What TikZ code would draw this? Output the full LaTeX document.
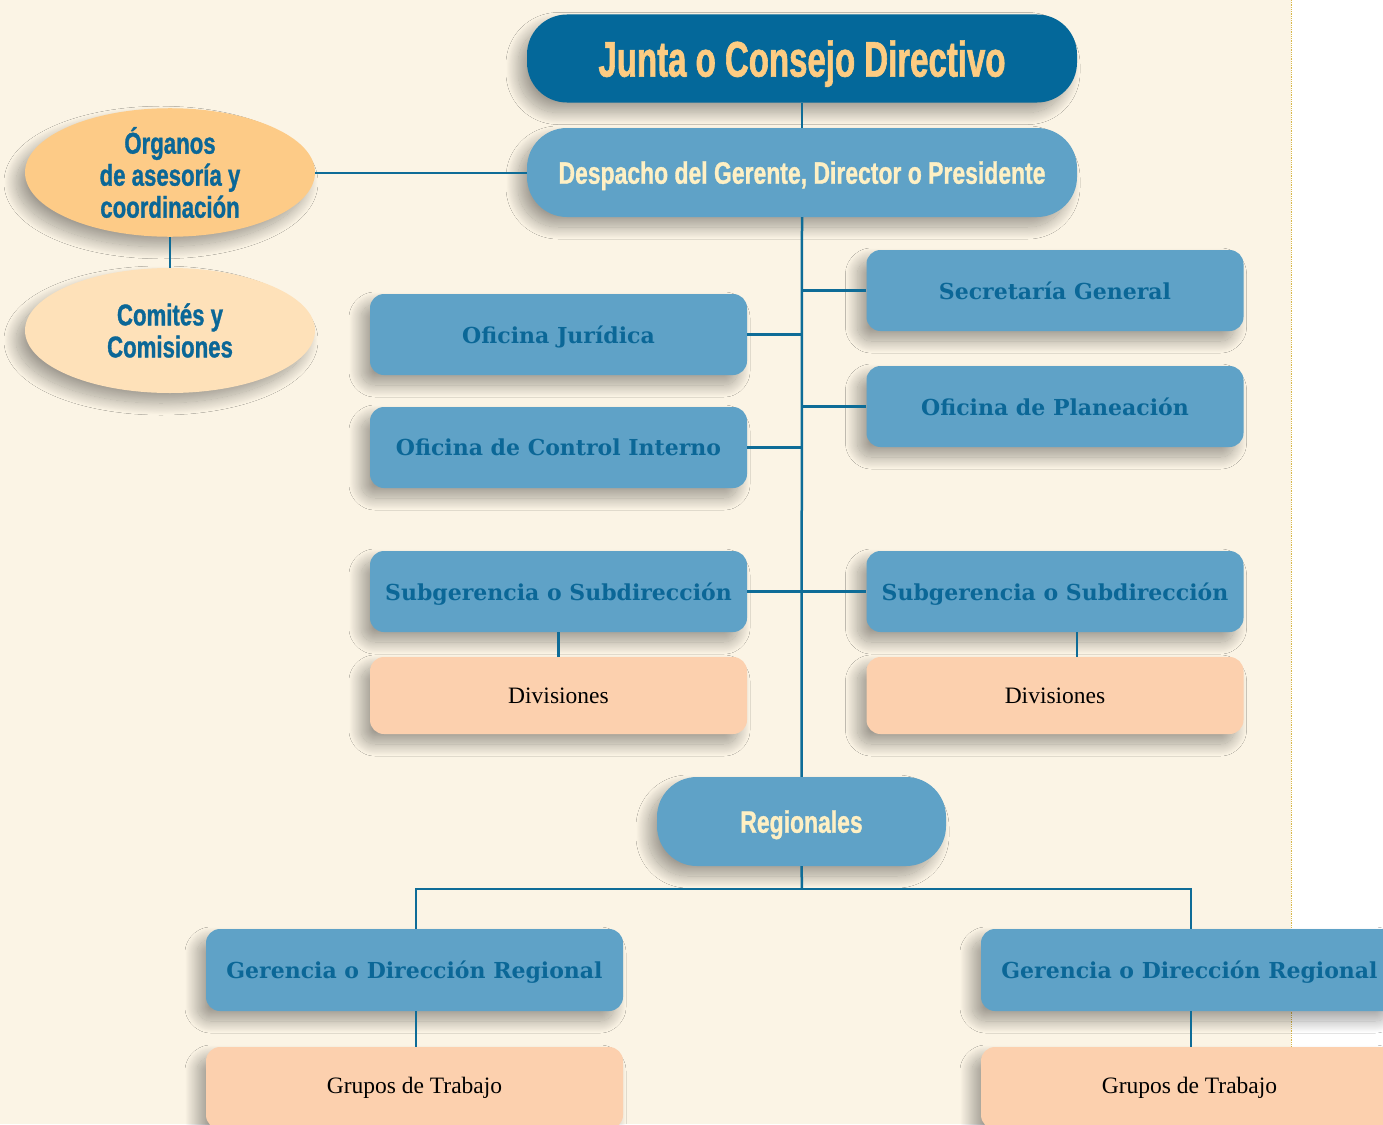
\documentclass[tikz,border=0pt]{standalone}
\usepackage{fontspec}
\usetikzlibrary{shapes.geometric,shadows.blur}
\newfontfamily\impactfont[FakeStretch=0.66,FakeBold=1.2]{Liberation Sans Bold}
\newfontfamily\impactwide[FakeStretch=0.74,FakeBold=1.0]{Liberation Sans Bold}
\newfontfamily\slabfont{DejaVu Serif Bold}
\newfontfamily\plainserif{Liberation Serif}
\definecolor{bgcream}{HTML}{FBF4E5}
\definecolor{darkblue}{HTML}{04689A}
\definecolor{midblue}{HTML}{5FA2C7}
\definecolor{txtblue}{HTML}{0B6797}
\definecolor{orangeell}{HTML}{FDCB87}
\definecolor{lightell}{HTML}{FEE1B9}
\definecolor{peach}{HTML}{FCD0AE}
\definecolor{creamtxt}{HTML}{FEF0C4}
\definecolor{juntatxt}{HTML}{FDCC82}
\definecolor{linecol}{HTML}{0E6C97}
\definecolor{dotyellow}{HTML}{D8B84A}
\tikzset{
  shad/.style={blur shadow={shadow xshift=-9pt,shadow yshift=-10pt,shadow blur radius=12pt,shadow blur steps=30,shadow opacity=36}},
  bigbox/.style={shad,rounded corners=40pt,minimum width=550pt,minimum height=88pt,inner sep=0pt,text depth=0pt},
  unitbox/.style={shad,rounded corners=14pt,fill=midblue,minimum width=377pt,minimum height=81pt,inner sep=0pt,text depth=0pt,
    font=\slabfont\fontsize{22}{26}\selectfont,text=txtblue},
  divbox/.style={shad,rounded corners=14pt,fill=peach,minimum width=377pt,minimum height=77pt,inner sep=0pt,
    font=\plainserif\fontsize{23.5}{27}\selectfont,text=black},
  ell/.style={shad,ellipse,minimum width=290pt,minimum height=125pt,inner sep=0pt,align=center,
    font=\impactwide\fontsize{30}{32}\selectfont,text=txtblue},
  conn/.style={draw=linecol,line width=2.5pt}
}
\begin{document}
\begin{tikzpicture}[x=1pt,y=-1pt]
\useasboundingbox (0,0) rectangle (1383,1124);
\clip (0,0) rectangle (1383,1124);
\fill[bgcream] (0,0) rectangle (1291,1124);
\fill[white] (1291,0) rectangle (1383,1124);
\draw[dotyellow,densely dotted,line width=0.8pt] (1291,0) -- (1291,1124);

% nodes
\node[bigbox,fill=darkblue,font=\impactfont\fontsize{50}{56}\selectfont,text=juntatxt] (junta) at (802,58.5) {Junta o Consejo Directivo};
\node[bigbox,fill=midblue,minimum height=89pt,font=\impactwide\fontsize{31}{36}\selectfont,text=creamtxt] (desp) at (802,172.5) {Despacho del Gerente, Director o Presidente};
\node[ell,fill=orangeell] (org) at (170,172.5) {Órganos\\de asesoría y\\coordinación};
\node[ell,fill=lightell] (com) at (170,330.5) {Comités y\\Comisiones};
\node[unitbox] (sec) at (1055,290.5) {Secretaría General};
\node[unitbox] (jur) at (558.5,334.5) {Oficina Jurídica};
\node[unitbox] (plan) at (1055,406.5) {Oficina de Planeación};
\node[unitbox] (ctrl) at (558.5,447.5) {Oficina de Control Interno};
\node[unitbox] (subL) at (558.5,591.5) {Subgerencia o Subdirección};
\node[unitbox] (subR) at (1055,591.5) {Subgerencia o Subdirección};
\node[divbox] (divL) at (558.5,695.5) {Divisiones};
\node[divbox] (divR) at (1055,695.5) {Divisiones};
\node[shad,rounded corners=40pt,fill=midblue,minimum width=289pt,minimum height=89pt,inner sep=0pt,text depth=0pt,
  font=\impactwide\fontsize{31}{36}\selectfont,text=creamtxt] (reg) at (801.5,821.5) {Regionales};
\node[unitbox,minimum width=417pt,minimum height=82pt] (gerL) at (414.5,970) {Gerencia o Dirección Regional};
\node[unitbox,minimum width=417pt,minimum height=82pt] (gerR) at (1189.5,970) {Gerencia o Dirección Regional};
\node[divbox,minimum width=417pt,minimum height=82pt] (gruL) at (414.5,1088) {Grupos de Trabajo};
\node[divbox,minimum width=417pt,minimum height=82pt] (gruR) at (1189.5,1088) {Grupos de Trabajo};

% connectors
\draw[conn] (junta.south) -- (desp.north);
\draw[conn] (desp.south) -- (reg.north);
\draw[conn] (org.east |- 0,173) -- (desp.west |- 0,173);
\draw[conn] (org.south) -- (com.north);
\draw[conn] (sec.west) -- (sec.west -| desp.south);
\draw[conn] (jur.east) -- (jur.east -| desp.south);
\draw[conn] (plan.west) -- (plan.west -| desp.south);
\draw[conn] (ctrl.east) -- (ctrl.east -| desp.south);
\draw[conn] (subL.east) -- (subR.west);
\draw[conn] (subL.south) -- (divL.north);
\draw[conn] ([xshift=22pt]subR.south) -- ([xshift=22pt]divR.north);
\coordinate (hb) at (802,889);
\draw[conn] (reg.south) -- (hb);
\draw[conn] ([xshift=1.5pt]gerL.north) |- (hb) -| ([xshift=1.5pt]gerR.north);
\draw[conn] ([xshift=1.5pt]gerL.south) -- ([xshift=1.5pt]gruL.north);
\draw[conn] ([xshift=1.5pt]gerR.south) -- ([xshift=1.5pt]gruR.north);
\end{tikzpicture}
\end{document}
